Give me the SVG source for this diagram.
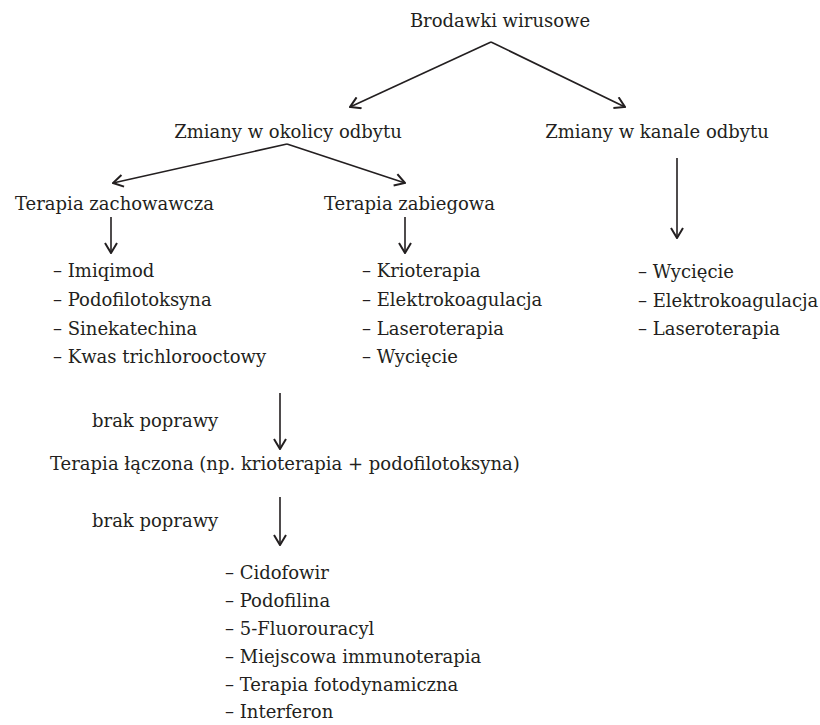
<svg xmlns="http://www.w3.org/2000/svg" width="820" height="725" viewBox="0 0 820 725">
<defs>
<style>
text{font-family:"DejaVu Serif","Liberation Serif",serif;font-size:18px;fill:#231f20}
.c{stroke:#231f20;stroke-width:1.6;fill:none}
</style>
<marker id="a" viewBox="0 0 12 14" refX="11" refY="7" markerWidth="12" markerHeight="14" markerUnits="userSpaceOnUse" orient="auto">
<polyline points="1,1 11,7 1,13" fill="none" stroke="#231f20" stroke-width="2"/>
</marker>
</defs>
<rect width="820" height="725" fill="#fff"/>
<g id="connectors">
<line class="c" x1="491" y1="42" x2="350" y2="107" marker-end="url(#a)"/>
<line class="c" x1="491" y1="42" x2="625" y2="107" marker-end="url(#a)"/>
<line class="c" x1="287" y1="144" x2="113" y2="183" marker-end="url(#a)"/>
<line class="c" x1="287" y1="144" x2="405" y2="183" marker-end="url(#a)"/>
<line class="c" x1="111" y1="217" x2="111" y2="253" marker-end="url(#a)"/>
<line class="c" x1="405" y1="217" x2="405" y2="253" marker-end="url(#a)"/>
<line class="c" x1="677" y1="158" x2="677" y2="238" marker-end="url(#a)"/>
<line class="c" x1="280" y1="393" x2="280" y2="449" marker-end="url(#a)"/>
<line class="c" x1="280" y1="497" x2="280" y2="545" marker-end="url(#a)"/>
</g>
<g id="root"><text x="500" y="27" text-anchor="middle">Brodawki wirusowe</text></g>
<g id="okolica"><text x="288" y="138" text-anchor="middle">Zmiany w okolicy odbytu</text></g>
<g id="kanal"><text x="657" y="138" text-anchor="middle">Zmiany w kanale odbytu</text></g>
<g id="zachowawcza"><text x="15" y="210">Terapia zachowawcza</text></g>
<g id="zabiegowa"><text x="324" y="210">Terapia zabiegowa</text></g>
<g id="list-zach">
<text x="53" y="277">– Imiqimod</text>
<text x="53" y="306">– Podofilotoksyna</text>
<text x="53" y="335">– Sinekatechina</text>
<text x="53" y="363">– Kwas trichlorooctowy</text>
</g>
<g id="list-zab">
<text x="362" y="277">– Krioterapia</text>
<text x="362" y="306">– Elektrokoagulacja</text>
<text x="362" y="335">– Laseroterapia</text>
<text x="362" y="363">– Wycięcie</text>
</g>
<g id="list-kanal">
<text x="638" y="278">– Wycięcie</text>
<text x="638" y="307">– Elektrokoagulacja</text>
<text x="638" y="335">– Laseroterapia</text>
</g>
<g id="brak1"><text x="92" y="427">brak poprawy</text></g>
<g id="laczona"><text x="50" y="470">Terapia łączona (np. krioterapia + podofilotoksyna)</text></g>
<g id="brak2"><text x="92" y="527">brak poprawy</text></g>
<g id="list-final">
<text x="225" y="579">– Cidofowir</text>
<text x="225" y="607">– Podofilina</text>
<text x="225" y="635">– 5-Fluorouracyl</text>
<text x="225" y="663">– Miejscowa immunoterapia</text>
<text x="225" y="691">– Terapia fotodynamiczna</text>
<text x="225" y="718">– Interferon</text>
</g>
</svg>
